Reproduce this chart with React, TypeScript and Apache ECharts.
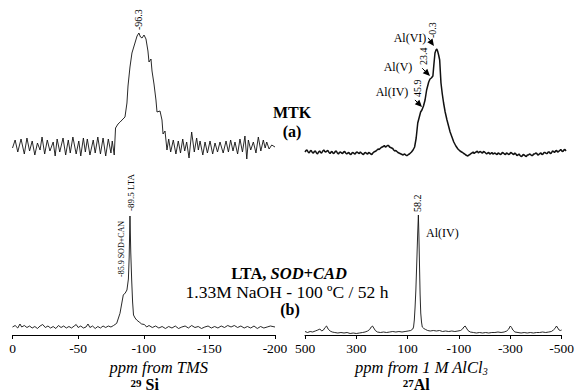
import React, { useEffect, useRef } from 'react';
import * as echarts from 'echarts';

// [ppm, intensity] pairs
const SI_MTK: number[][] = [
  [0,0],[-2,8],[-4,-4],[-6.5,9],[-9,-6],[-11,10],[-13,-3],[-15,7],[-17,-7],[-19,5],
  [-21,-2],[-22.5,11],[-24.5,-6],[-26.5,8],[-28.5,-3],[-31,6],[-32.5,-8],[-34,9],[-36,-4],[-38.5,10],
  [-40.5,-7],[-42.5,8],[-44,-5],[-46,11],[-48.5,-6],[-50.5,7],[-52,-8],[-54,10],[-55.5,-4],[-57,9],
  [-59,-7],[-61.5,8],[-63,-5],[-65,11],[-67,-6],[-69,10],[-71,-8],[-73,9],[-75,-5],[-76,7],[-77.5,-7],
  [-78.5,20],[-80.4,24],[-82,26],[-84.2,29],[-85.7,31],[-87.2,45],[-88,62],[-89.5,81],[-91,95],[-93.3,105],
  [-94.9,112],[-96.3,115],[-97.5,111],[-98.7,110],[-100.2,113],[-101.7,109],[-103.2,97],[-104,86],[-105.5,89],[-106.3,77],
  [-107.8,64],[-109.3,48],[-110.1,36],[-112.4,37],[-113.9,28],[-114.7,14],[-116.2,17],[-117.7,-2],
  [-119,9],[-120.5,-4],[-122.5,8],[-124.5,-6],[-126.3,7],[-128,-5],[-129.7,9],[-131.2,-3],[-132.7,6],[-134.5,-10],
  [-136.5,16],[-138.5,-4],[-140.3,10],[-141.6,-2],[-142.9,7],[-145,-7],[-146.7,6],[-148.5,-5],[-150.5,7],[-152.5,-6],
  [-154.3,5],[-156.2,-4],[-158.1,6],[-160.5,-5],[-162.7,7],[-164.5,-4],[-166.2,8],[-168,-3],[-169.5,6],[-171.5,-6],
  [-173.3,9],[-175.2,-4],[-177.1,12],[-178.5,-11],[-179.7,8],[-181.5,-2],[-183.5,6],[-185.5,-5],[-187.3,11],[-189.2,-3],
  [-191.1,8],[-192.5,0],[-193.7,6],[-195.5,-1],[-197.5,3],[-200,1],
];

const AL_MTK: number[][] = [
  [500,0],[496,1.5],[492,2],[488,0],[484,-1],[480,1],[476,1.5],[472,-0.5],[468,-1],[464,0.5],[460,1],[456,-1],[452,-2],[448,0],[444,1],[440,-0.5],[436,-1],[432,1],[428,2],[424,0.5],
  [420,0],[416,1],[412,1.5],[408,-0.5],[404,-1.5],[400,0],[396,0.5],[392,-1.5],[388,-1],[384,0.5],[380,1],[376,-1],[372,-2],[368,-0.5],[364,0],[360,-1],[356,-1.5],[352,0],[348,0.5],[344,-1],
  [340,-2],[336,-1],[332,-0.5],[328,-2],[324,-2.5],[320,-1],[316,-0.5],[312,-1.5],[308,-2],[304,-0.5],[300,0],[296,-1],[292,-1.5],[288,0],[284,-1],[280,-2],[276,-2.5],[272,-1],[268,-0.5],[264,-1.5],
  [260,-2],[256,-0.5],[252,-1],[248,-2],[244,-2.5],[240,-1],[236,0],[232,0.5],[228,1],[224,2],[220,3],[216,2.5],[212,3.5],[208,4.5],[204,5],[200,5.5],[196,6.5],[192,5],[188,5.5],[184,6.5],
  [180,6.5],[176,5],[172,4.5],[168,4],[164,3.5],[160,2],[156,1],[152,1.5],[148,0.5],[144,-0.5],[140,-1],[136,-1.5],[132,-2],[128,-2.5],[124,-3],[120,-2],[116,-2.5],[112,-3.5],[108,-3.5],[104,-2.5],
  [100,-2],[96,-1],[92,0],[86,2],[80,5],[74,14],[68,29],[62,35],[57,40],[52,42],[46,46],
  [40,52],[34,62],[30,66],[26,70],[21,73],[16,74],[10,76],[6,88],[2,99],[-2,102],
  [-5,103],[-8,101],[-12,97],[-16,92],[-19,78],[-21,69],[-26,58],[-31,49],[-37,40],[-44,32],
  [-50,26],[-56,20],[-63,15],[-70,10],[-78,6],[-86,3],[-94,1],[-100,0],[-104,-0.5],[-108,-1.5],[-112,-2],[-116,-3],
  [-120,-3.5],[-124,-4],[-128,-3],[-132,-2.5],[-136,-1.5],[-140,-1],[-144,0],[-148,-1.5],[-152,-0.5],[-156,0],[-160,1],[-164,-1],[-168,0],[-172,0.5],[-176,-0.5],[-180,-1],[-184,0.5],[-188,0],[-192,-1],[-196,-2],
  [-200,-1],[-204,-0.5],[-208,-2],[-212,-1.5],[-216,-0.5],[-220,-2],[-224,-1.5],[-228,-1],[-232,-2],[-236,-2.5],[-240,-1],[-244,-1.5],[-248,-2.5],[-252,-2],[-256,-0.5],[-260,-1],[-264,-2],[-268,-2.5],[-272,-1],[-276,-1.5],
  [-280,-2.5],[-284,-2],[-288,-0.5],[-292,-1],[-296,-2],[-300,-2.5],[-304,-1],[-308,-2],[-312,-3.5],[-316,-3],[-320,-2],[-324,-3.5],[-328,-4.5],[-332,-4],[-336,-2.5],[-340,-3],[-344,-4],[-348,-4.5],[-352,-3],[-356,-3],
  [-360,-2],[-364,-2.5],[-368,-3.5],[-372,-3.5],[-376,-2],[-380,-2],[-384,-1],[-388,-1.5],[-392,-3],[-396,-2.5],[-400,-1.5],[-404,-1],[-408,-2.5],[-412,-2],[-416,-0.5],[-420,-0.5],[-424,-1.5],[-428,-1.5],[-432,0],[-436,0],
  [-440,-1.5],[-444,-1],[-448,1],[-452,0.5],[-456,-0.5],[-460,1],[-464,1.5],[-468,0],[-472,0.5],[-476,1.5],[-480,2.5],[-484,1],[-488,0.5],[-492,2],[-496,2.5],[-500,1],
];

const SI_LTA: number[][] = [
  [0,0],[-2,1.5],[-4,-1],[-5.7,3],[-7,0],[-9,1.5],[-11,-0.5],[-13,1],[-15,-1],[-17,0.5],
  [-19,-1.5],[-21,1],[-23,2.5],[-25,-0.5],[-27,1],[-29,-1],[-31,0.5],[-33,-1.5],[-35,1.5],[-37,-0.5],
  [-39,1],[-41,-1],[-43,0.5],[-45,-1],[-47,1],[-48.5,2.5],[-50,-0.5],[-52,1],[-54,-1],[-56,0],
  [-57.5,3],[-59,-0.5],[-61,1],[-63,-1.5],[-65,0.5],[-67,-1],[-69,1],[-71,-0.5],[-73,1],[-75,0],
  [-77,1.5],[-79.4,3.7],[-81.9,13.7],[-84.4,32],[-85.9,34],[-87.2,37],[-88.3,48],[-88.9,70],[-89.5,111],[-90.1,75],
  [-90.8,47],[-91.5,25],[-92.2,12],[-93.4,9],[-94.6,7],[-96.5,5],[-98.4,3],[-100.5,2.5],[-102.2,0],[-104,1.5],
  [-106.5,-0.5],[-109,1],[-111.5,-1],[-114,0.5],[-116.5,-1.5],[-119,0.5],[-121.5,-1],[-124,1],[-126.5,-1.5],[-129,0],
  [-131.5,1],[-134,-1],[-136.5,1.5],[-139,-0.5],[-141.5,0.5],[-144,-1.5],[-146.5,0],[-149,1],[-151.5,-1],[-154,0.5],
  [-156.5,-1],[-159,1],[-161.5,-0.5],[-164,1.5],[-166.5,0],[-169,1.5],[-171.5,-0.5],[-174,1],[-176.5,-1],[-179,0.5],
  [-181.5,-1],[-184,1],[-186.5,-1.5],[-189,0.5],[-191.5,-1],[-194,0],[-196.5,1],[-200,0],
];

const AL_LTA: number[][] = [
  [500,0.5],[490,-0.5],[480,0.5],[470,0],[460,1],[450,2],[442,3],[435,1],[428,2],[422,4.5],
  [416,6],[410,3],[402,1],[394,0],[384,-0.5],[372,-1],[360,-0.5],[348,-1],[336,-0.5],[324,-1.5],
  [312,-1],[300,-1.5],[288,-1],[276,-0.5],[266,0],[256,1],[248,2.5],[242,5],[237,6],[232,4],
  [226,1.5],[218,0],[206,-0.5],[194,0],[182,-0.5],[170,0],[158,0.5],[146,0],[134,0.5],[122,0],
  [110,0.5],[98,1],[88,1.5],[80,3],[77,5],[74,12],[71,25],[68,42],[64.5,69],[61,98],
  [58.2,117],[56,95],[54,69],[51.5,38],[49,19],[46,10],[43,5],[37,3.5],[30,2.5],[22,1.5],
  [12,1],[0,1.5],[-12,1],[-24,1.5],[-36,0.5],[-48,1],[-60,0.5],[-72,1],[-84,0.5],[-96,1],
  [-106,1.5],[-114,3],[-119,5],[-124,6],[-129,4],[-135,1.5],[-144,0],[-156,-0.5],[-168,-1],[-180,-0.5],
  [-192,-1],[-204,-0.5],[-216,-1],[-228,-0.5],[-240,-0.5],[-252,0],[-264,-0.5],[-276,0],[-286,1],[-294,3],
  [-300,6],[-305,4.5],[-310,2],[-318,0],[-330,-0.5],[-342,-1],[-354,-0.5],[-366,-1],[-378,-0.5],[-390,-1],
  [-402,-0.5],[-414,-0.5],[-426,0],[-438,-0.5],[-450,0],[-460,0.5],[-468,2],[-474,3.5],[-480,6],[-485,4],
  [-490,2],[-495,1.5],[-500,2],
];

const SI_RANGE = [-200, 0];
const AL_RANGE = [-500, 500];
const SI_TICK_STEP = 50;
const AL_TICK_STEP = 200;

const SERIF = 'Liberation Serif, Times New Roman, serif';

export default function App() {
  const ref = useRef<HTMLDivElement>(null);
  useEffect(() => {
    if (!ref.current) return;
    const chart = echarts.init(ref.current, undefined, { renderer: 'svg' });
    const grids = [
      { left: 12.5, top: 20, width: 262.5, height: 140 },
      { left: 305, top: 20, width: 261, height: 140 },
      { left: 12.5, top: 195, width: 262.5, height: 140 },
      { left: 305, top: 195, width: 261, height: 140 },
    ];
    const yRanges = [[-12, 128], [-8, 132], [-8, 132], [-3, 137]];
    const axisBase = (i: number, show: boolean) => {
      const si = i % 2 === 0;
      return {
        type: 'value', gridIndex: i, inverse: true,
        min: si ? SI_RANGE[0] : AL_RANGE[0], max: si ? SI_RANGE[1] : AL_RANGE[1],
        interval: si ? SI_TICK_STEP : AL_TICK_STEP,
        show,
        splitLine: { show: false },
        axisLine: { show: true, onZero: false, lineStyle: { color: '#000', width: 1 } },
        axisTick: { show: true, length: 4, lineStyle: { color: '#000', width: 1 } },
        axisLabel: { show: true, showMinLabel: true, showMaxLabel: true, color: '#000', fontFamily: SERIF, fontSize: 13.5, margin: 6 },
      };
    };
    const lineSeries = (i: number, data: number[][], width: number) => ({
      type: 'line', xAxisIndex: i, yAxisIndex: i, data, showSymbol: false, symbol: 'none',
      silent: true, lineStyle: { color: '#111', width }, clip: false,
    });
    chart.setOption({
      animation: false,
      grid: grids,
      xAxis: [axisBase(0, false), axisBase(1, false), axisBase(2, true), axisBase(3, true)],
      yAxis: yRanges.map((r, i) => ({ type: 'value', gridIndex: i, min: r[0], max: r[1], show: false })),
      series: [
        lineSeries(0, SI_MTK, 0.9),
        lineSeries(1, AL_MTK, 1.5),
        lineSeries(2, SI_LTA, 0.9),
        lineSeries(3, AL_LTA, 0.9),
      ],
    });

    const px = (s: number, x: number, y: number) => chart.convertToPixel({ seriesIndex: s }, [x, y]) as number[];
    const vtext = (p: number[], dx: number, dy: number, text: string, size: number) => ({
      type: 'text', x: p[0] + dx, y: p[1] + dy, rotation: Math.PI / 2,
      style: { text, fill: '#000', fontFamily: SERIF, fontSize: size, align: 'left', verticalAlign: 'middle' },
    });
    const htext = (x: number, y: number, text: string, size: number, extra: any = {}) => ({
      type: 'text', x, y,
      style: { text, fill: '#000', fontFamily: SERIF, fontSize: size, align: 'center', verticalAlign: 'middle', ...extra },
    });
    const arrow = (tip: number[], dir: number[], len: number) => {
      const n = Math.hypot(dir[0], dir[1]);
      const d = [dir[0] / n, dir[1] / n];
      const head = 7, w = 3.2;
      const base = [tip[0] - d[0] * head, tip[1] - d[1] * head];
      const nrm = [-d[1], d[0]];
      return [
        { type: 'line', shape: { x1: tip[0] - d[0] * len, y1: tip[1] - d[1] * len, x2: base[0], y2: base[1] }, style: { stroke: '#000', lineWidth: 1 } },
        { type: 'polygon', shape: { points: [tip, [base[0] + nrm[0] * w, base[1] + nrm[1] * w], [base[0] - nrm[0] * w, base[1] - nrm[1] * w]] }, style: { fill: '#000' } },
      ];
    };

    const pTL = px(0, -96.3, 115);
    const pBL1 = px(2, -89.5, 111);
    const pBL2 = px(2, -85.9, 34);
    const pBR = px(3, 58.2, 117);
    const pVI = px(1, -0.3, 103);
    const pV = px(1, 23.4, 72);
    const pIV = px(1, 45.9, 46);
    const tipVI = [pVI[0] - 1.6, pVI[1] - 3];
    const tipV = [pV[0] + 0.6, pV[1] - 4];
    const tipIV = [pIV[0] - 1.5, pIV[1] + 1];
    const siMid = (px(2, SI_RANGE[0], 0)[0] + px(2, SI_RANGE[1], 0)[0]) / 2;
    const alMid = (px(3, AL_RANGE[0], 0)[0] + px(3, AL_RANGE[1], 0)[0]) / 2;

    chart.setOption({
      graphic: [
        vtext(pTL, 0, -3, '-96.3', 10),
        vtext(pBL1, 1, -5, '-89.5 LTA', 9),
        vtext(pBL2, -4, -16, '-85.9 SOD+CAN', 8),
        vtext(pBR, -0.5, -3, '58.2', 10),
        vtext(pVI, -3, -11, '-0.3', 10),
        vtext(pV, -5.4, -15, '23.4', 10),
        vtext(pIV, -6, -9, '45.9', 10),
        ...arrow(tipVI, [5, 7], 10),
        ...arrow(tipV, [8, 8], 11),
        ...arrow(tipIV, [7, 7], 10),
        htext(pVI[0] - 25.6, pVI[1] - 11, 'Al(VI)', 12),
        htext(pV[0] - 31.4, pV[1] - 13, 'Al(V)', 12),
        htext(pIV[0] - 31.5, pIV[1] - 14, 'Al(IV)', 12),
        htext(pBR[0] + 24, pBR[1] + 18, 'Al(IV)', 12),
        htext(292, 112, 'MTK', 16, { fontWeight: 'bold' }),
        htext(292, 131, '(a)', 16, { fontWeight: 'bold' }),
        htext(289, 273, '{b|LTA, }{bi|SOD+CAD}', 16.5, {
          rich: {
            b: { fontFamily: SERIF, fontSize: 16.5, fontWeight: 'bold', fill: '#000' },
            bi: { fontFamily: SERIF, fontSize: 16.5, fontWeight: 'bold', fontStyle: 'italic', fill: '#000' },
          },
        }),
        htext(287, 292, '1.33M NaOH - 100 ºC / 52 h', 17.5),
        htext(290, 309, '(b)', 16, { fontWeight: 'bold' }),
        htext(siMid + 15, 367.5, 'ppm from TMS', 16.5, { fontStyle: 'italic' }),
        htext(alMid - 12, 367.5, '{m|ppm from 1 M AlCl}{s|3}', 16.5, {
          rich: {
            m: { fontFamily: SERIF, fontSize: 16.5, fontStyle: 'italic', fill: '#000', lineHeight: 17 },
            s: { fontFamily: SERIF, fontSize: 10, fontStyle: 'italic', fill: '#000', verticalAlign: 'bottom', lineHeight: 10 },
          },
        }),
        htext(siMid + 1, 384, '{sup|29}{b| Si}', 16, {
          rich: {
            sup: { fontFamily: SERIF, fontSize: 11, fontWeight: 'bold', fill: '#000', verticalAlign: 'top', lineHeight: 8 },
            b: { fontFamily: SERIF, fontSize: 16, fontWeight: 'bold', fill: '#000', lineHeight: 14 },
          },
        }),
        htext(alMid - 17, 384, '{sup|27}{b|Al}', 16, {
          rich: {
            sup: { fontFamily: SERIF, fontSize: 11, fontWeight: 'bold', fill: '#000', verticalAlign: 'top', lineHeight: 8 },
            b: { fontFamily: SERIF, fontSize: 16, fontWeight: 'bold', fill: '#000', lineHeight: 14 },
          },
        }),
      ],
    });
    return () => chart.dispose();
  }, []);
  return <div ref={ref} style={{ position: 'fixed', left: 0, top: 0, width: 577, height: 391, background: '#fff' }} />;
}
